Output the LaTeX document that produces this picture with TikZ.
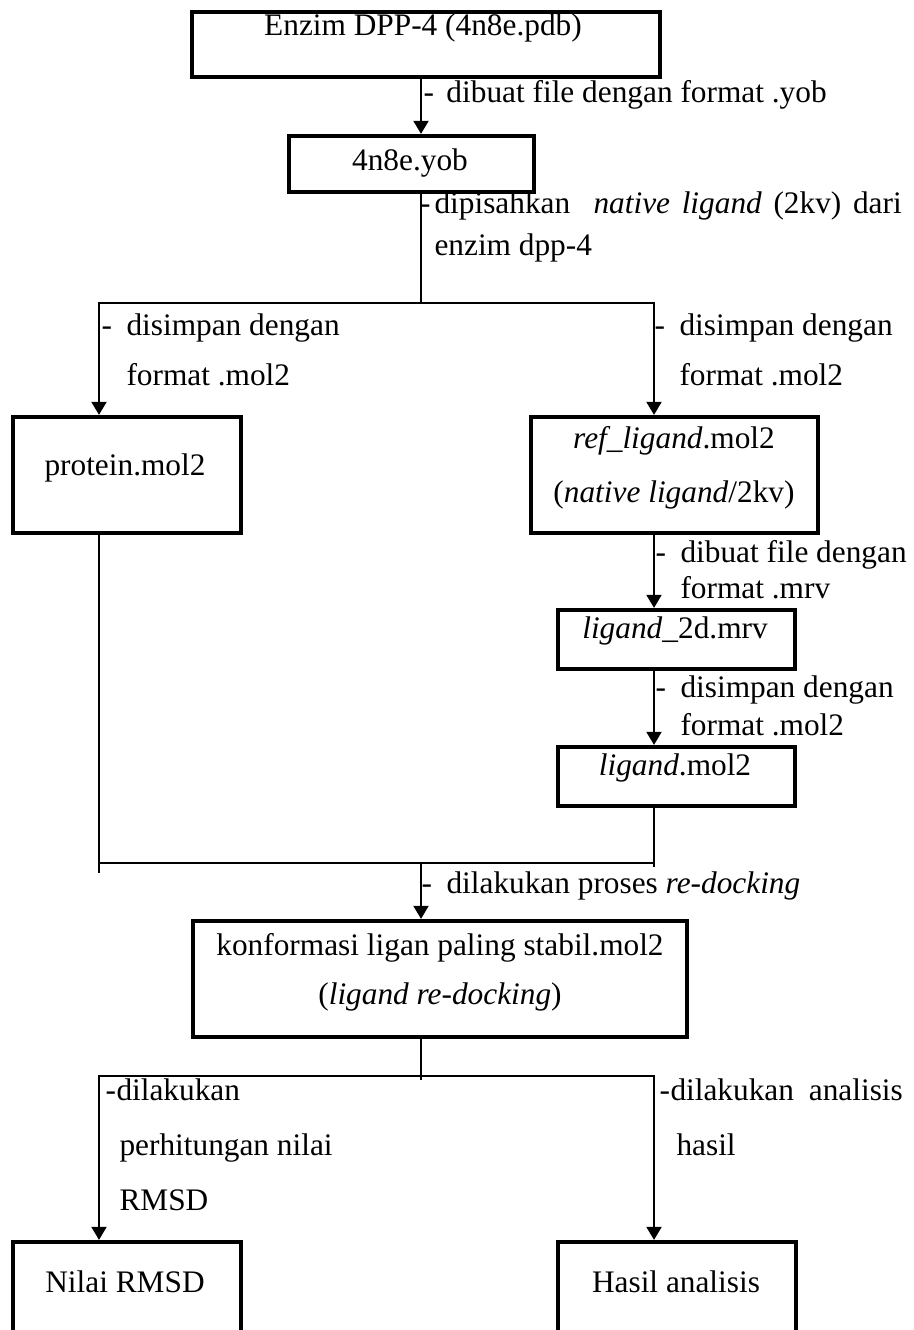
\documentclass[tikz,border=0pt]{standalone}
\usepackage{fontspec}
\setmainfont{Liberation Serif}
\usetikzlibrary{arrows.meta,calc}
\newcommand{\fs}{\fontsize{12pt}{14pt}\selectfont}
\newcommand{\dsh}[1]{\llap{-\hspace{#1}}}
\newcommand{\mkbox}[5]{\node[boxnode, minimum width={(#4-#2)*0.3831pt}, minimum height={(#5-#3)*0.3831pt}] (#1) at ({(#2+#4)/2},{(#3+#5)/2}) {};}
\tikzset{
  boxnode/.style={draw, line width=1.6pt, inner sep=0pt, fill=none},
  conn/.style={line width=0.9pt, draw=black},
  arr/.style={-{Triangle[length=5pt,width=5.7pt]}},
  lbl/.style={inner sep=0pt, anchor=base west, font=\fs},
  btxt/.style={inner sep=0pt, anchor=base, font=\fs},
}
\begin{document}
\begin{tikzpicture}[x=0.3831pt,y=-0.3831pt]
\useasboundingbox (0,0) rectangle (913,1330);
\fill[white] (0,0) rectangle (913,1330);
\clip (0,0) rectangle (913,1330);

% boxes
\mkbox{b1}{192}{12}{660}{77}
\mkbox{b2}{289}{136}{534}{192}
\mkbox{b3}{13}{417}{241}{533}
\mkbox{b4}{531}{417}{818}{533}
\mkbox{b5}{558}{610}{795}{669}
\mkbox{b6}{558}{747}{795}{806}
\mkbox{b7}{193}{921}{687}{1037}
\mkbox{b8}{13}{1242}{241}{1380}
\mkbox{b9}{558}{1242}{796}{1380}

% box texts
\node[btxt] (t1) at (423,36) {Enzim DPP-4 (4n8e.pdb)};
\node[btxt] (t2) at (410,171) {4n8e.yob};
\node[btxt] (t3) at (125,475) {protein.mol2};
\node[btxt] (t4a) at (674,448) {\textit{ref\_ligand}.mol2};
\node[btxt] (t4b) at (674,502) {(\textit{native ligand}/2kv)};
\node[btxt] (t5) at (675,638) {\textit{ligand}\_2d.mrv};
\node[btxt] (t6) at (675,775) {\textit{ligand}.mol2};
\node[btxt] (t7a) at (440,955) {konformasi ligan paling stabil.mol2};
\node[btxt] (t7b) at (440,1004) {(\textit{ligand re-docking})};
\node[btxt] (t8) at (125,1292) {Nilai RMSD};
\node[btxt] (t9) at (676,1292) {Hasil analisis};

% helper coordinates
\coordinate (cx) at (421,0);
\coordinate (lx) at (99,0);
\coordinate (rx) at (654,0);
\coordinate (s1) at (421,303);
\coordinate (j1) at (421,863);
\coordinate (jl) at (99,863);
\coordinate (jr) at (654,863);
\coordinate (lend) at (99,873);
\coordinate (rend) at (654,867);
\coordinate (s2) at (421,1076);
\coordinate (s2e) at (421,1080);

% connectors
\draw[conn,arr] (b1.south -| cx) -- (b2.north -| cx);
\draw[conn] (b2.south -| cx) -- (s1);
\draw[conn,arr] (s1) -| (b3.north -| lx);
\draw[conn,arr] (s1) -| (b4.north -| rx);
\draw[conn,arr] (b4.south -| rx) -- (b5.north -| rx);
\draw[conn,arr] (b5.south -| rx) -- (b6.north -| rx);
\draw[conn] (b3.south -| lx) -- (lend);
\draw[conn] (b6.south -| rx) -- (rend);
\draw[conn] (jl) -- (jr);
\draw[conn,arr] (j1) -- (b7.north -| cx);
\draw[conn] (b7.south -| cx) -- (s2e);
\draw[conn,arr] (s2) -| (b8.north -| lx);
\draw[conn,arr] (s2) -| (b9.north -| rx);

% labels
\node[lbl] (l1) at (446,103) {\dsh{4.8pt}dibuat file dengan format .yob};
\node[lbl] (l2a) at (434,214) {\dsh{1.5pt}\makebox[179pt][s]{dipisahkan\ \ \textit{native ligand} (2kv) dari}};
\node[lbl] (l2b) at (434,256) {enzim dpp-4};
\node[lbl] (l3a) at (126,336) {\dsh{5.55pt}disimpan dengan};
\node[lbl] (l3b) at (126,386) {format .mol2};
\node[lbl] (l4a) at (679,336) {\dsh{5.55pt}disimpan dengan};
\node[lbl] (l4b) at (679,386) {format .mol2};
\node[lbl] (l5a) at (680,562) {\dsh{5.55pt}dibuat file dengan};
\node[lbl] (l5b) at (680,598) {format .mrv};
\node[lbl] (l6a) at (680,697) {\dsh{5.55pt}disimpan dengan};
\node[lbl] (l6b) at (680,735) {format .mol2};
\node[lbl] (l7) at (446,893) {\dsh{5.55pt}dilakukan proses \textit{re-docking}};
\node[lbl] (l8a) at (116,1100) {\dsh{0.2pt}dilakukan};
\node[lbl] (l8b) at (119,1155) {perhitungan nilai};
\node[lbl] (l8c) at (119,1210) {RMSD};
\node[lbl] (l9a) at (670,1100) {\dsh{0.2pt}\makebox[89pt][s]{dilakukan analisis}};
\node[lbl] (l9b) at (676,1155) {hasil};
\end{tikzpicture}
\end{document}
